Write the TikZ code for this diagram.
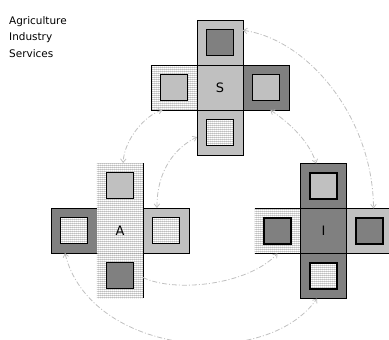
\documentclass[tikz,border=0pt]{standalone}
\usepackage{fontspec}
\setmainfont{DejaVu Sans}
\usetikzlibrary{arrows.meta,patterns.meta}
\definecolor{lg}{HTML}{C0C0C0}
\definecolor{dg}{HTML}{808080}
\definecolor{arr}{HTML}{C0C0C0}
\tikzdeclarepattern{
  name=dotgrid,
  type=colored,
  bounding box={(0,0) and (2bp,2bp)},
  tile size={(2bp,2bp)},
  code={\fill[black!55] (0,0) rectangle (1bp,1bp);
        \fill[black!28] (1bp,0) rectangle (2bp,1bp);
        \fill[black!28] (0,1bp) rectangle (1bp,2bp);}
}
\begin{document}
\begin{tikzpicture}[x=1bp,y=-1bp,
  cell/.style={draw=black, line width=0.6bp, minimum width=46bp, minimum height=45bp, inner sep=0pt, outer sep=0pt},
  inbox/.style={draw=black, line width=1.2bp, minimum width=27bp, minimum height=26bp, inner sep=0pt, outer sep=0pt},
  dots/.style={preaction={fill=white}, pattern=dotgrid},
  nob/.style={draw=none},
  lbl/.style={font=\fontsize{13}{13}\selectfont},
  leg/.style={anchor=base west, inner sep=0pt, font=\fontsize{10.5}{12}\selectfont},
  link/.style={draw=arr, line width=0.8bp, dash pattern=on 5bp off 2bp on 1bp off 2bp},
  bi/.style={link, {Straight Barb[length=3.5bp,width=5.5bp]}-{Straight Barb[length=3.5bp,width=5.5bp]}},
  uni/.style={link, -{Straight Barb[length=3.5bp,width=5.5bp]}}
]
\useasboundingbox (0,0) rectangle (389,340);

% legend
\node[leg] (legA) at (9,24.2) {Agriculture};
\node[leg] (legI) at (9,40.9) {Industry};
\node[leg] (legS) at (9,57.6) {Services};

% ---------- S ----------
\node[cell, fill=lg, lbl] (S-c) at (220,87.5) {S};
\node[cell, fill=lg] (S-t) at (220,42.5) {};
\node[cell, dots] (S-l) at (174,87.5) {};
\node[cell, fill=dg] (S-r) at (266,87.5) {};
\node[cell, fill=lg] (S-b) at (220,132.5) {};
\node[inbox, fill=dg] (S-ti) at (S-t) {};
\node[inbox, fill=lg] (S-li) at (S-l) {};
\node[inbox, fill=lg] (S-ri) at (S-r) {};
\node[inbox, dots] (S-bi) at (S-b) {};

% ---------- A ----------
\node[cell, dots, nob] (A-t) at (120,185.5) {};
\node[cell, dots, nob] (A-b) at (120,275.5) {};
\node[cell, fill=dg] (A-l) at (74,230.5) {};
\node[cell, fill=lg] (A-r) at (166,230.5) {};
\node[cell, dots, nob, lbl] (A-c) at (120,230.5) {A};
\draw[line width=0.6bp] (A-t.north east) -- (A-b.south east);
\node[inbox, fill=lg] (A-ti) at (A-t) {};
\node[inbox, dots] (A-li) at (A-l) {};
\node[inbox, dots] (A-ri) at (A-r) {};
\node[inbox, fill=dg] (A-bi) at (A-b) {};

% ---------- I ----------
\node[cell, dots, nob] (I-l) at (277.5,231) {};
\draw[line width=0.6bp] (I-l.north west) -- (I-l.north east) (I-l.south west) -- (I-l.south east);
\node[cell, fill=dg, lbl] (I-c) at (323.5,231) {I};
\node[cell, fill=dg] (I-t) at (323.5,186) {};
\node[cell, fill=lg] (I-r) at (369.5,231) {};
\node[cell, fill=dg] (I-b) at (323.5,276) {};
\node[inbox, fill=lg] (I-ti) at (I-t) {};
\node[inbox, fill=dg] (I-li) at (I-l) {};
\node[inbox, fill=dg] (I-ri) at (I-r) {};
\node[inbox, dots] (I-bi) at (I-b) {};

% ---------- connectors ----------
\draw[bi] (S-t.28) .. controls (310,40) and (373,120) .. (I-r.80);
\draw[bi] (S-l.243) .. controls (145,115) and (124,140) .. (A-t.82);
\draw[bi] (A-r.112) .. controls (157,170) and (175,148) .. (S-b.191);
\draw[bi] (S-r.281) .. controls (285,120) and (308,138) .. (I-t.108);
\draw[uni] (A-b.-5) .. controls (175,293) and (248,285) .. (I-l.270);
\draw[bi] (A-l.248) .. controls (90,355) and (265,372) .. (I-b.254);
\end{tikzpicture}
\end{document}
